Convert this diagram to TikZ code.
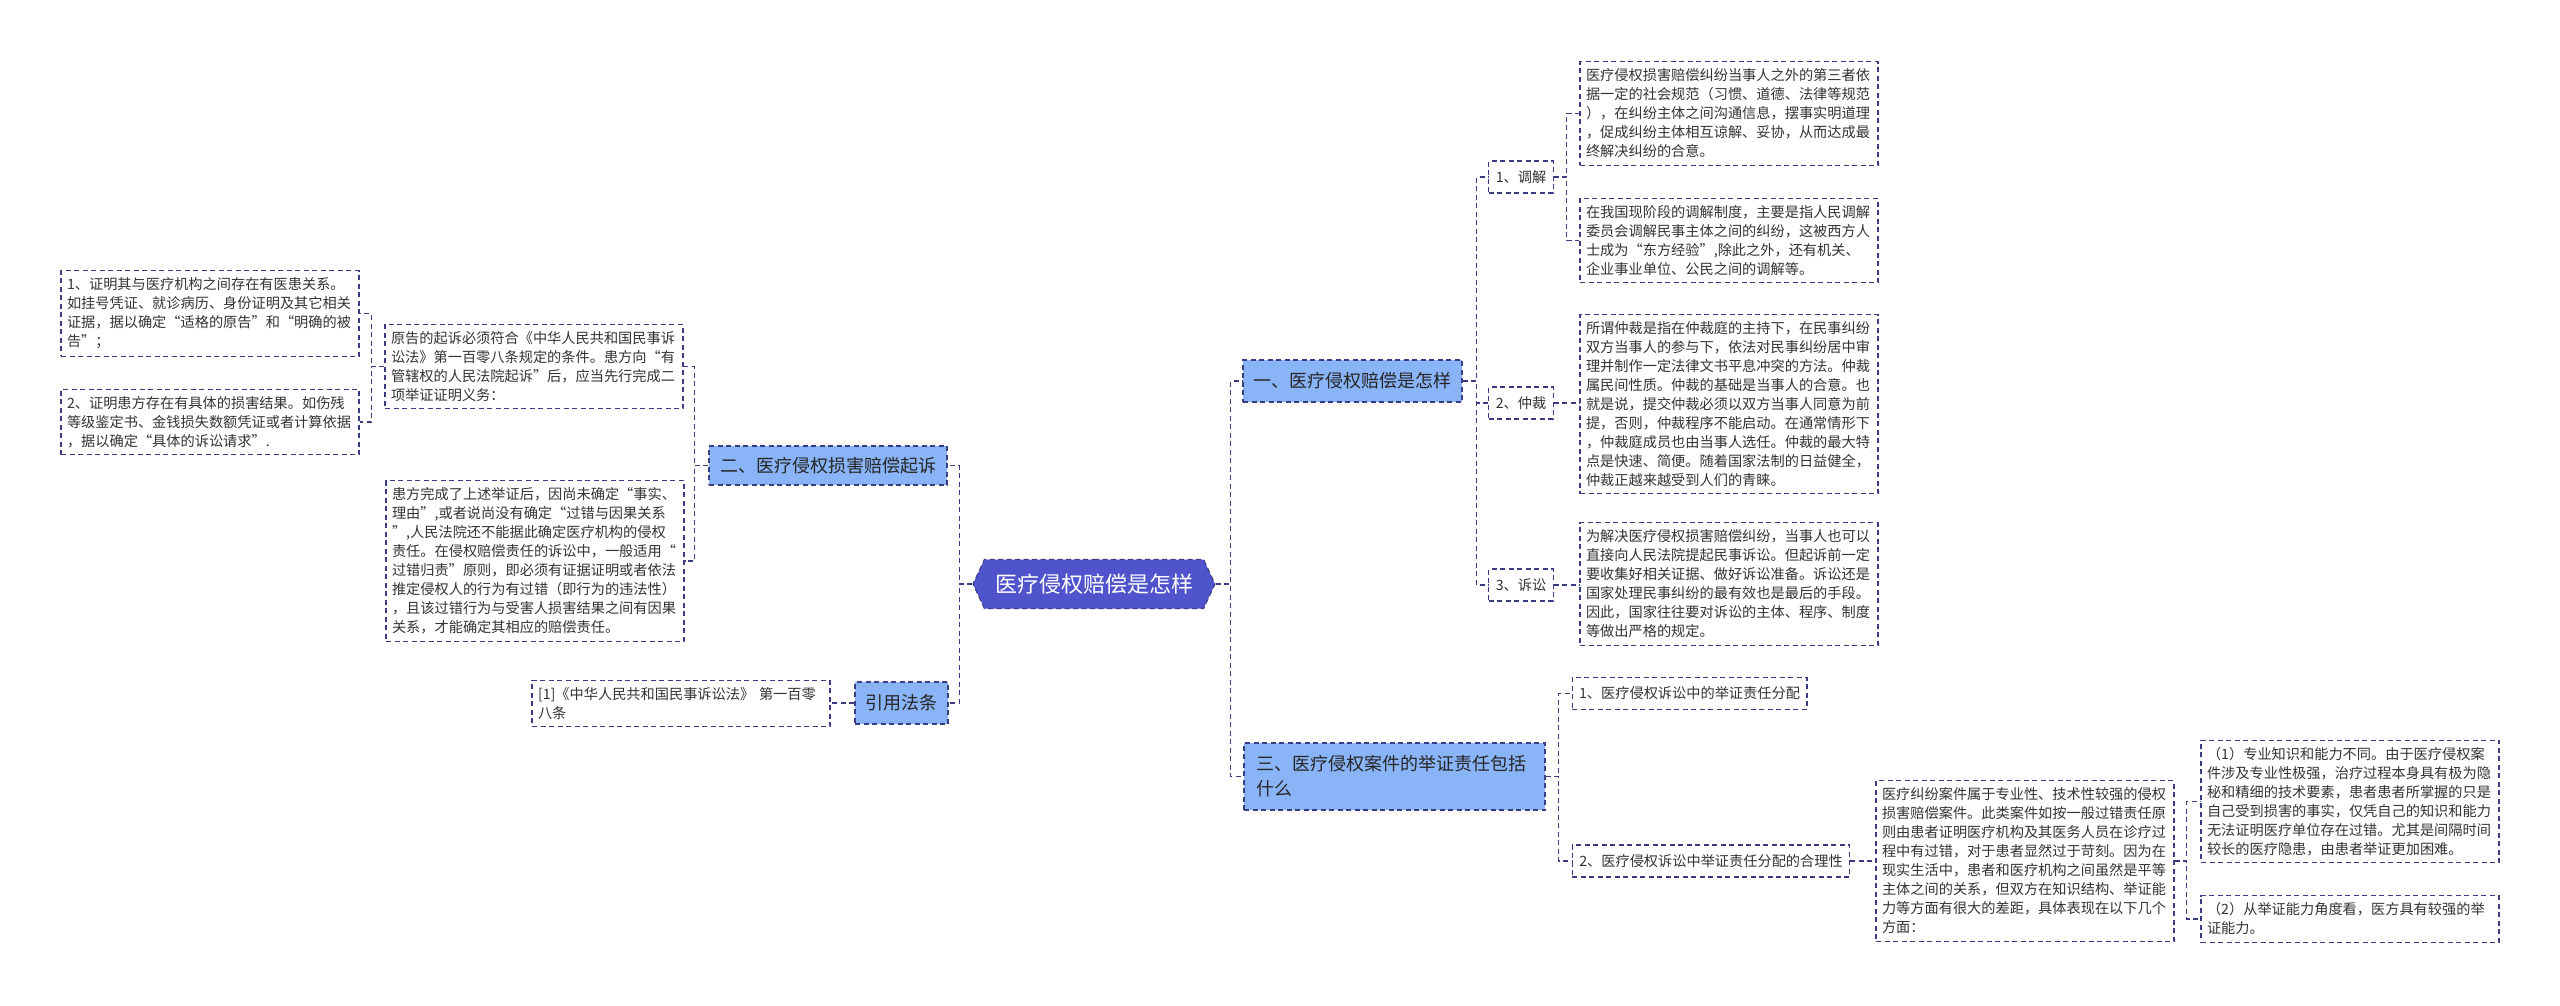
\documentclass[tikz,border=0pt]{standalone}
\usepackage{fontspec}
\setmainfont{Noto Sans CJK SC}
\usetikzlibrary{shapes.symbols}

\definecolor{linec}{RGB}{58,60,134}
\definecolor{rootc}{RGB}{80,84,204}
\definecolor{topicc}{RGB}{138,180,248}
\definecolor{textc}{RGB}{51,51,51}

\begin{document}
\begin{tikzpicture}[
    x=1pt, y=-1pt,
    link/.style={draw=linec, line width=1.1pt, dash pattern=on 5pt off 3.5pt},
    root/.style={signal, signal to=east and west, signal pointer angle=130,
                 fill=rootc, draw=linec, line width=1.1pt, dash pattern=on 5pt off 3.5pt,
                 text=white, font=\fontsize{22}{26}\selectfont,
                 minimum width=242, minimum height=49, inner sep=0pt},
    topic/.style={draw=linec, line width=1.1pt, dash pattern=on 5pt off 3.5pt,
                  fill=topicc, text=black!85, align=left,
                  font=\fontsize{18}{25}\selectfont, inner xsep=10, inner ysep=0pt},
    sub/.style={draw=linec, line width=1.1pt, dash pattern=on 5pt off 3.5pt,
                text=textc, font=\fontsize{14.2}{19}\selectfont,
                inner xsep=7, inner ysep=0pt, minimum height=32},
    leaf/.style={draw=linec, line width=1.1pt, dash pattern=on 5pt off 3.5pt,
                 text=textc, align=left, text width=286, inner xsep=6, inner ysep=7,
                 font=\fontsize{14.2}{19}\selectfont},
]
\useasboundingbox[fill=white] (0,0) rectangle (2560,1006);

% ---- Root ----
\node[root] (root) at (1094, 584) {医疗侵权赔偿是怎样};

% ---- Main topics ----
\node[topic, minimum width=219, minimum height=42] (one) at (1352.5, 381) {一、医疗侵权赔偿是怎样};
\node[topic, text width=277, inner xsep=12, minimum height=67] (three) at (1394.5, 776.5)
    {三、医疗侵权案件的举证责任包括\\什么};
\node[topic, minimum width=238, minimum height=39] (two) at (828, 465.5) {二、医疗侵权损害赔偿起诉};
\node[topic, minimum width=93, minimum height=42] (cite) at (901.5, 703) {引用法条};

\draw[link] (root.east) -- ++(15,0) |- (one.west);
\draw[link] (root.east) -- ++(15,0) |- (three.west);
\draw[link] (root.west) -- ++(-13,0) |- (two.east);
\draw[link] (root.west) -- ++(-13,0) |- (cite.east);

% ---- Branch one ----
\node[sub] (mediate) at (1521, 177) {1、调解};
\node[sub] (arbit) at (1521, 403) {2、仲裁};
\node[sub] (lawsuit) at (1521, 585) {3、诉讼};

\draw[link] (one.east) -- ++(14,0) |- (mediate.west);
\draw[link] (one.east) -- ++(14,0) |- (arbit.west);
\draw[link] (one.east) -- ++(14,0) |- (lawsuit.west);

\node[leaf] (medA) at (1729, 113.5) {医疗侵权损害赔偿纠纷当事人之外的第三者依\\
据一定的社会规范（习惯、道德、法律等规范\\
），在纠纷主体之间沟通信息，摆事实明道理\\
，促成纠纷主体相互谅解、妥协，从而达成最\\
终解决纠纷的合意。};
\node[leaf] (medB) at (1729, 240.5) {在我国现阶段的调解制度，主要是指人民调解\\
委员会调解民事主体之间的纠纷，这被西方人\\
士成为“东方经验”,除此之外，还有机关、\\
企业事业单位、公民之间的调解等。};
\node[leaf] (arbT) at (1729, 404) {所谓仲裁是指在仲裁庭的主持下，在民事纠纷\\
双方当事人的参与下，依法对民事纠纷居中审\\
理并制作一定法律文书平息冲突的方法。仲裁\\
属民间性质。仲裁的基础是当事人的合意。也\\
就是说，提交仲裁必须以双方当事人同意为前\\
提，否则，仲裁程序不能启动。在通常情形下\\
，仲裁庭成员也由当事人选任。仲裁的最大特\\
点是快速、简便。随着国家法制的日益健全，\\
仲裁正越来越受到人们的青睐。};
\node[leaf] (lawT) at (1729, 584) {为解决医疗侵权损害赔偿纠纷，当事人也可以\\
直接向人民法院提起民事诉讼。但起诉前一定\\
要收集好相关证据、做好诉讼准备。诉讼还是\\
国家处理民事纠纷的最有效也是最后的手段。\\
因此，国家往往要对诉讼的主体、程序、制度\\
等做出严格的规定。};

\draw[link] (mediate.east) -- ++(13,0) |- (medA.west);
\draw[link] (mediate.east) -- ++(13,0) |- (medB.west);
\draw[link] (arbit.east) -- (arbT.west |- arbit.east);
\draw[link] (lawsuit.east) -- (lawT.west |- lawsuit.east);

% ---- Branch three ----
\node[sub] (alloc) at (1689.5, 693.5) {1、医疗侵权诉讼中的举证责任分配};
\node[sub] (reason) at (1711, 861) {2、医疗侵权诉讼中举证责任分配的合理性};

\draw[link] (three.east) -- ++(13,0) |- (alloc.west);
\draw[link] (three.east) -- ++(13,0) |- (reason.west);

\node[leaf] (reasonT) at (2025, 861) {医疗纠纷案件属于专业性、技术性较强的侵权\\
损害赔偿案件。此类案件如按一般过错责任原\\
则由患者证明医疗机构及其医务人员在诊疗过\\
程中有过错，对于患者显然过于苛刻。因为在\\
现实生活中，患者和医疗机构之间虽然是平等\\
主体之间的关系，但双方在知识结构、举证能\\
力等方面有很大的差距，具体表现在以下几个\\
方面：};
\draw[link] (reason.east) -- (reasonT.west |- reason.east);

\node[leaf] (pA) at (2350, 801.5) {（1）专业知识和能力不同。由于医疗侵权案\\
件涉及专业性极强，治疗过程本身具有极为隐\\
秘和精细的技术要素，患者患者所掌握的只是\\
自己受到损害的事实，仅凭自己的知识和能力\\
无法证明医疗单位存在过错。尤其是间隔时间\\
较长的医疗隐患，由患者举证更加困难。};
\node[leaf] (pB) at (2350, 919) {（2）从举证能力角度看，医方具有较强的举\\
证能力。};

\draw[link] (reasonT.east) -- ++(12,0) |- (pA.west);
\draw[link] (reasonT.east) -- ++(12,0) |- (pB.west);

% ---- Branch two ----
\node[leaf] (plaint) at (534, 366.5) {原告的起诉必须符合《中华人民共和国民事诉\\
讼法》第一百零八条规定的条件。患方向“有\\
管辖权的人民法院起诉”后，应当先行完成二\\
项举证证明义务：};
\node[leaf] (after) at (535, 561) {患方完成了上述举证后，因尚未确定“事实、\\
理由”,或者说尚没有确定“过错与因果关系\\
”,人民法院还不能据此确定医疗机构的侵权\\
责任。在侵权赔偿责任的诉讼中，一般适用“\\
过错归责”原则，即必须有证据证明或者依法\\
推定侵权人的行为有过错（即行为的违法性）\\
，且该过错行为与受害人损害结果之间有因果\\
关系，才能确定其相应的赔偿责任。};

\draw[link] (two.west) -- ++(-14,0) |- (plaint.east);
\draw[link] (two.west) -- ++(-14,0) |- (after.east);

\node[leaf] (proofA) at (210, 313.5) {1、证明其与医疗机构之间存在有医患关系。\\
如挂号凭证、就诊病历、身份证明及其它相关\\
证据，据以确定“适格的原告”和“明确的被\\
告”；};
\node[leaf] (proofB) at (210, 422) {2、证明患方存在有具体的损害结果。如伤残\\
等级鉴定书、金钱损失数额凭证或者计算依据\\
，据以确定“具体的诉讼请求”.};

\draw[link] (plaint.west) -- ++(-13,0) |- (proofA.east);
\draw[link] (plaint.west) -- ++(-13,0) |- (proofB.east);

% ---- Citation ----
\node[leaf] (law) at (681, 703.5) {[1]《中华人民共和国民事诉讼法》 第一百零\\
八条};
\draw[link] (cite.west) -- (law.east |- cite.west);

\end{tikzpicture}
\end{document}
